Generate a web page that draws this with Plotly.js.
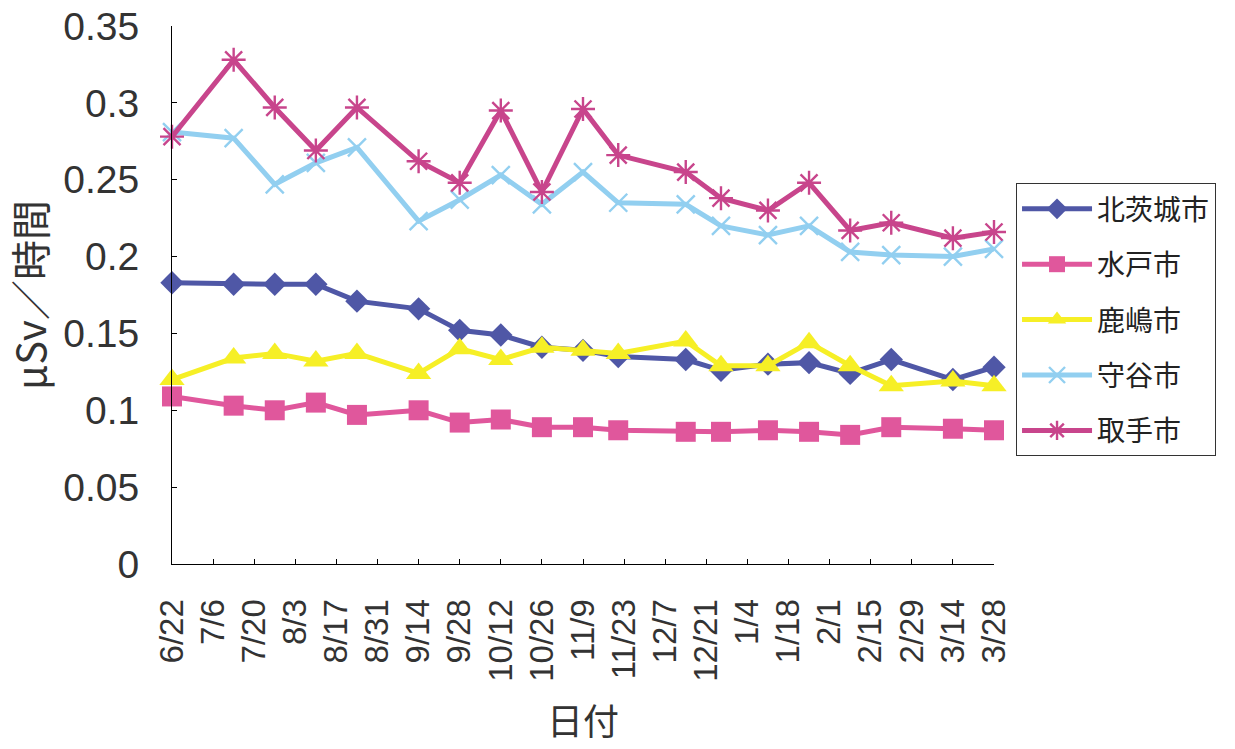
<!DOCTYPE html>
<html>
<head>
<meta charset="utf-8">
<script src="https://cdn.plot.ly/plotly-3.0.1.min.js"></script>
<style>
  html, body { margin: 0; padding: 0; background: #ffffff; }
  #chart { width: 1235px; height: 749px; }
</style>
</head>
<body>
<div id="chart"></div>
<script>
// Measurement dates (2011-2012)
const dates = [
  '2011-06-22', '2011-07-13', '2011-07-27', '2011-08-10', '2011-08-24',
  '2011-09-14', '2011-09-28', '2011-10-12', '2011-10-26', '2011-11-09',
  '2011-11-21', '2011-12-14', '2011-12-26', '2012-01-11', '2012-01-25',
  '2012-02-08', '2012-02-22', '2012-03-14', '2012-03-28'
];

// Air dose rate (μSv/h) per city
const kitaibaraki = [0.183, 0.182, 0.182, 0.182, 0.171, 0.166, 0.152, 0.149, 0.141, 0.139,
                     0.135, 0.133, 0.126, 0.130, 0.131, 0.124, 0.133, 0.120, 0.128];
const mito        = [0.109, 0.103, 0.100, 0.105, 0.097, 0.100, 0.092, 0.094, 0.089, 0.089,
                     0.087, 0.086, 0.086, 0.087, 0.086, 0.084, 0.089, 0.088, 0.087];
const kashima     = [0.120, 0.134, 0.137, 0.132, 0.137, 0.124, 0.140, 0.133, 0.141, 0.139,
                     0.137, 0.145, 0.129, 0.129, 0.144, 0.129, 0.116, 0.119, 0.116];
const moriya      = [0.281, 0.277, 0.247, 0.261, 0.271, 0.223, 0.237, 0.253, 0.234, 0.255,
                     0.235, 0.234, 0.220, 0.214, 0.220, 0.203, 0.201, 0.200, 0.205];
const toride      = [0.278, 0.328, 0.297, 0.269, 0.297, 0.262, 0.248, 0.295, 0.242, 0.296,
                     0.266, 0.255, 0.238, 0.230, 0.248, 0.217, 0.222, 0.212, 0.216];

const cityNames = ['北茨城市', '水戸市', '鹿嶋市', '守谷市', '取手市'];

// X-axis ticks every two weeks
const tickDates = [
  '2011-06-22', '2011-07-06', '2011-07-20', '2011-08-03', '2011-08-17', '2011-08-31',
  '2011-09-14', '2011-09-28', '2011-10-12', '2011-10-26', '2011-11-09', '2011-11-23',
  '2011-12-07', '2011-12-21', '2012-01-04', '2012-01-18', '2012-02-01', '2012-02-15',
  '2012-02-29', '2012-03-14', '2012-03-28'
];
const tickLabels = [
  '6/22', '7/6', '7/20', '8/3', '8/17', '8/31', '9/14', '9/28', '10/12', '10/26',
  '11/9', '11/23', '12/7', '12/21', '1/4', '1/18', '2/1', '2/15', '2/29', '3/14', '3/28'
];

// Y-axis ticks and horizontal grid levels
const yTickVals = [0, 0.05, 0.1, 0.15, 0.2, 0.25, 0.3, 0.35];
const yTickText = ['0', '0.05', '0.1', '0.15', '0.2', '0.25', '0.3', '0.35'];
const gridVals = [0.05, 0.1, 0.15, 0.2, 0.25, 0.3];

const xTitle = '日付';
const yTitle = 'μSv／時間';

const NUM_FONT = 'Liberation Sans, Arial, sans-serif';
const JP_FONT = 'Noto Sans CJK JP, sans-serif';
const TEXT_COLOR = '#333333';

function series(name, values, color, symbol, size, lineOnlySymbol) {
  const marker = { symbol: symbol, size: size, color: color };
  if (lineOnlySymbol) {
    marker.line = { color: color, width: 2.4 };
  } else {
    marker.line = { width: 0 };
  }
  return {
    type: 'scatter',
    mode: 'lines+markers',
    name: name,
    legendgroup: name,
    x: dates,
    y: values,
    line: { color: color, width: 5 },
    marker: marker,
    cliponaxis: false
  };
}

const traces = [
  series(cityNames[0], kitaibaraki, '#4f57a6', 'diamond', 18, false),
  series(cityNames[1], mito, '#e0579c', 'square', 20, false),
  series(cityNames[2], kashima, '#f6ef26', 'triangle-up', 22, false),
  series(cityNames[3], moriya, '#92cff0', 'x-thin', 18, true),
  series(cityNames[4], toride, '#c8458c', 'asterisk', 20, true)
];

const layout = {
  width: 1235,
  height: 749,
  margin: { l: 172, r: 241, t: 26, b: 185 },
  paper_bgcolor: '#ffffff',
  plot_bgcolor: '#ffffff',
  showlegend: true,
  xaxis: {
    type: 'date',
    range: ['2011-06-22', '2012-03-28'],
    tickmode: 'array',
    tickvals: tickDates,
    ticktext: tickLabels,
    tickangle: -90,
    ticks: 'inside',
    ticklen: 5,
    tickcolor: '#000000',
    tickwidth: 1,
    showline: true,
    linecolor: '#000000',
    linewidth: 1,
    showgrid: false,
    zeroline: false,
    ticklabelstandoff: 21,
    tickfont: { family: NUM_FONT, size: 33, color: TEXT_COLOR },
    automargin: false
  },
  yaxis: {
    range: [0, 0.35],
    tickmode: 'array',
    tickvals: yTickVals,
    ticktext: yTickText,
    ticks: 'inside',
    ticklen: 5,
    tickcolor: '#000000',
    tickwidth: 1,
    showline: true,
    linecolor: '#000000',
    linewidth: 1,
    showgrid: false,
    zeroline: false,
    ticklabelstandoff: 24,
    tickfont: { family: NUM_FONT, size: 39, color: TEXT_COLOR },
    title: { text: yTitle, font: { family: JP_FONT, size: 40, color: TEXT_COLOR }, standoff: 12 },
    automargin: false
  },
  yaxis2: {
    overlaying: 'y',
    anchor: 'x',
    side: 'left',
    range: [0, 0.35],
    tickmode: 'array',
    tickvals: gridVals,
    showticklabels: false,
    ticks: '',
    showgrid: true,
    gridcolor: '#000000',
    gridwidth: 1,
    zeroline: false,
    showline: false
  },
  // x-axis title set below the rotated date labels
  annotations: [{
    text: xTitle,
    xref: 'paper', yref: 'paper',
    x: 0.5, y: 0,
    xanchor: 'center', yanchor: 'middle',
    yshift: -155,
    showarrow: false,
    font: { family: JP_FONT, size: 36, color: TEXT_COLOR }
  }],
  legend: {
    x: 1.0268,
    xanchor: 'left',
    y: 0.708,
    yanchor: 'top',
    bgcolor: '#ffffff',
    bordercolor: '#333333',
    borderwidth: 1,
    itemwidth: 70,
    traceorder: 'grouped',
    tracegroupgap: 16,
    font: { family: JP_FONT, size: 28, color: '#222222' }
  }
};

Plotly.newPlot('chart', traces, layout, { displayModeBar: false, staticPlot: true });
</script>
</body>
</html>
